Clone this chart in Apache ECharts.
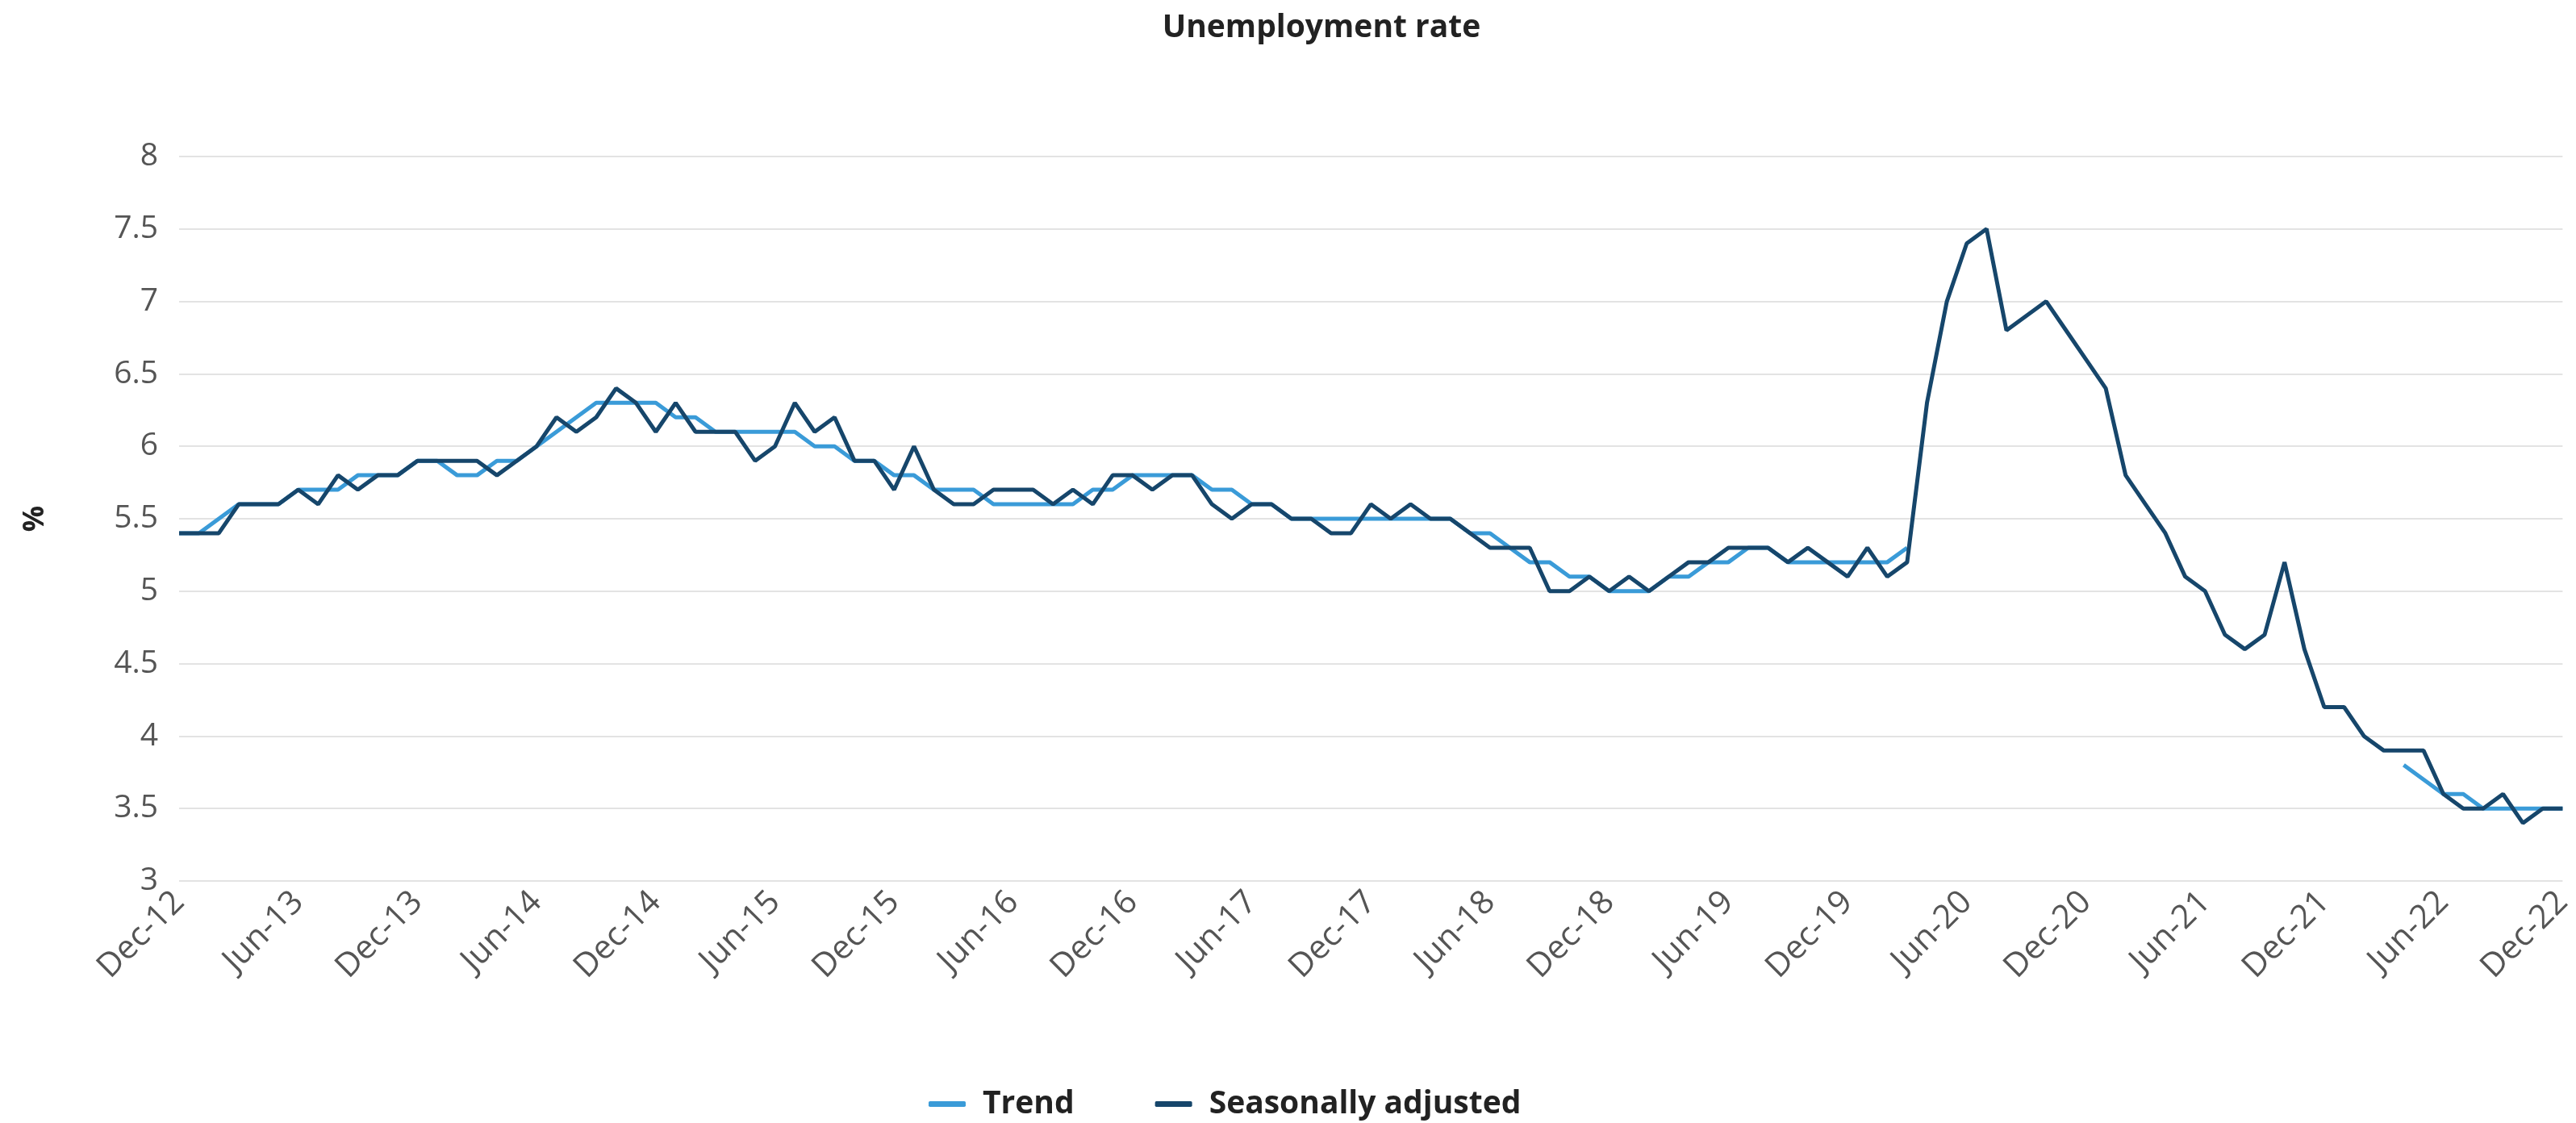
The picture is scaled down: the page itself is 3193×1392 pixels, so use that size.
<!DOCTYPE html>
<html>
<head>
<meta charset="utf-8">
<title>Unemployment rate</title>
<script src="https://cdn.jsdelivr.net/npm/echarts@6/dist/echarts.min.js"></script>
<style>
    html, body { margin: 0; padding: 0; background: #fff; }
    #chart { width: 3193px; height: 1392px; }
</style>
</head>
<body>
<div id="chart"></div>
<script>
// months Dec-12 .. Dec-22
const monthNames = ['Jan', 'Feb', 'Mar', 'Apr', 'May', 'Jun', 'Jul', 'Aug', 'Sep', 'Oct', 'Nov', 'Dec'];
const categories = [];
for (let i = 0; i <= 120; i++) {
    const m = (11 + i) % 12;
    const y = 12 + Math.floor((11 + i) / 12);
    categories.push(monthNames[m] + '-' + y);
}

// seasonally adjusted, %
const seasonallyAdjusted = [
    5.4, 5.4, 5.4, 5.6, 5.6, 5.6, 5.7, 5.6, 5.8, 5.7, 5.8, 5.8,
    5.9, 5.9, 5.9, 5.9, 5.8, 5.9, 6.0, 6.2, 6.1, 6.2, 6.4, 6.3,
    6.1, 6.3, 6.1, 6.1, 6.1, 5.9, 6.0, 6.3, 6.1, 6.2, 5.9, 5.9,
    5.7, 6.0, 5.7, 5.6, 5.6, 5.7, 5.7, 5.7, 5.6, 5.7, 5.6, 5.8,
    5.8, 5.7, 5.8, 5.8, 5.6, 5.5, 5.6, 5.6, 5.5, 5.5, 5.4, 5.4,
    5.6, 5.5, 5.6, 5.5, 5.5, 5.4, 5.3, 5.3, 5.3, 5.0, 5.0, 5.1,
    5.0, 5.1, 5.0, 5.1, 5.2, 5.2, 5.3, 5.3, 5.3, 5.2, 5.3, 5.2,
    5.1, 5.3, 5.1, 5.2, 6.3, 7.0, 7.4, 7.5, 6.8, 6.9, 7.0, 6.8,
    6.6, 6.4, 5.8, 5.6, 5.4, 5.1, 5.0, 4.7, 4.6, 4.7, 5.2, 4.6,
    4.2, 4.2, 4.0, 3.9, 3.9, 3.9, 3.6, 3.5, 3.5, 3.6, 3.4, 3.5,
    3.5
];

// trend, % (suspended Apr-20 .. Mar-22)
const trend = [
    5.4, 5.4, 5.5, 5.6, 5.6, 5.6, 5.7, 5.7, 5.7, 5.8, 5.8, 5.8,
    5.9, 5.9, 5.8, 5.8, 5.9, 5.9, 6.0, 6.1, 6.2, 6.3, 6.3, 6.3,
    6.3, 6.2, 6.2, 6.1, 6.1, 6.1, 6.1, 6.1, 6.0, 6.0, 5.9, 5.9,
    5.8, 5.8, 5.7, 5.7, 5.7, 5.6, 5.6, 5.6, 5.6, 5.6, 5.7, 5.7,
    5.8, 5.8, 5.8, 5.8, 5.7, 5.7, 5.6, 5.6, 5.5, 5.5, 5.5, 5.5,
    5.5, 5.5, 5.5, 5.5, 5.5, 5.4, 5.4, 5.3, 5.2, 5.2, 5.1, 5.1,
    5.0, 5.0, 5.0, 5.1, 5.1, 5.2, 5.2, 5.3, 5.3, 5.2, 5.2, 5.2,
    5.2, 5.2, 5.2, 5.3, null, null, null, null, null, null, null, null,
    null, null, null, null, null, null, null, null, null, null, null, null,
    null, null, null, null, 3.8, 3.7, 3.6, 3.6, 3.5, 3.5, 3.5, 3.5,
    3.5
];

const fontFamily = "'Open Sans', 'Noto Sans', sans-serif";

let myChart = echarts.init(document.getElementById('chart'));

let option = {
    animation: false,
    backgroundColor: '#fff',
    color: ['#3a9bd8', '#16466b'],
    title: {
        text: 'Unemployment rate',
        left: 1633,
        textAlign: 'center',
        top: 10,
        textStyle: {
            fontFamily: fontFamily,
            fontSize: 39,
            fontWeight: 'bold',
            color: '#222',
        },
    },
    legend: {
        data: ['Trend', 'Seasonally adjusted'],
        left: 1146,
        top: 1344,
        icon: 'roundRect',
        itemWidth: 46,
        itemHeight: 7,
        itemGap: 100,
        textStyle: {
            fontFamily: fontFamily,
            fontSize: 39,
            fontWeight: 'bold',
            color: '#222',
            padding: [0, 0, 0, 16],
        },
    },
    grid: {
        left: 222,
        right: 15,
        top: 194,
        bottom: 300,
    },
    xAxis: {
        type: 'category',
        data: categories,
        boundaryGap: false,
        axisLine: { show: false },
        axisTick: { show: false },
        axisLabel: {
            interval: 5,
            rotate: 45,
            margin: 20,
            fontFamily: fontFamily,
            fontSize: 41,
            color: '#555',
        },
    },
    yAxis: {
        type: 'value',
        min: 3,
        max: 8,
        interval: 0.5,
        name: '%',
        nameLocation: 'middle',
        nameGap: 160,
        nameTextStyle: {
            fontFamily: fontFamily,
            fontSize: 36,
            fontWeight: 'bold',
            color: '#222',
        },
        axisLabel: {
            margin: 26,
            fontFamily: fontFamily,
            fontSize: 39,
            color: '#555',
        },
        splitLine: {
            lineStyle: { color: '#e3e3e3', width: 2 },
        },
    },
    series: [
        {
            name: 'Trend',
            type: 'line',
            data: trend,
            showSymbol: false,
            lineStyle: { width: 5 },
        },
        {
            name: 'Seasonally adjusted',
            type: 'line',
            data: seasonallyAdjusted,
            showSymbol: false,
            lineStyle: { width: 5 },
        },
    ],
};

myChart.setOption(option);
</script>
</body>
</html>
